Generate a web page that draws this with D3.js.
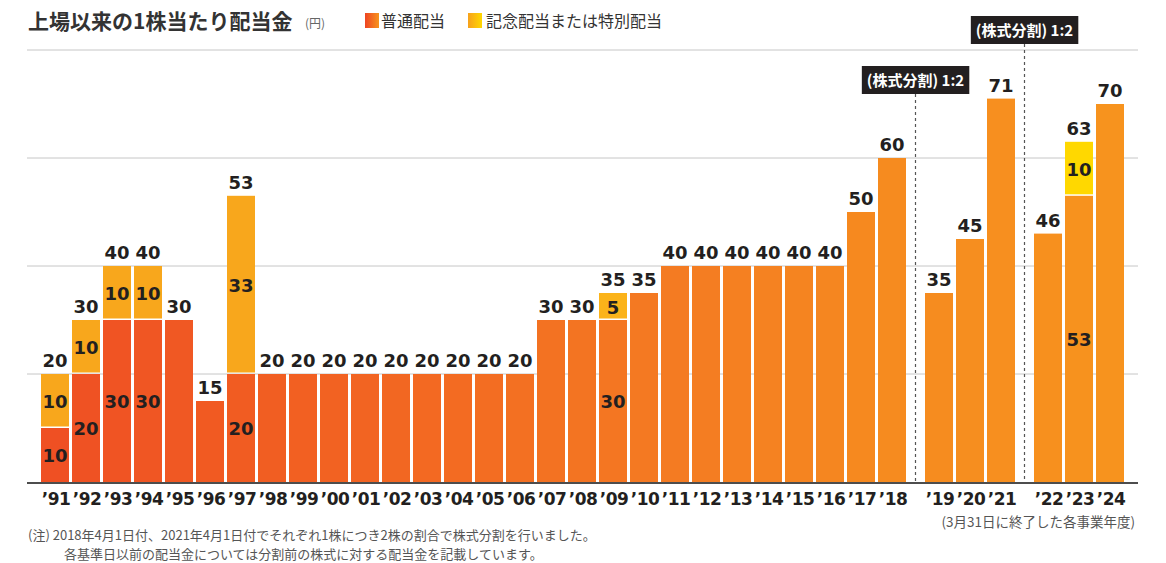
<!DOCTYPE html>
<html>
<head>
<meta charset="utf-8">
<script src="https://cdn.jsdelivr.net/npm/d3@7"></script>
<style>
  body { margin: 0; background: #fff; }
  svg { display: block; }
  text { font-family: "Noto Sans CJK JP", "Noto Sans", sans-serif; }
  .num { font-family: "DejaVu Sans", sans-serif; font-weight: bold; fill: #231F20; }
</style>
</head>
<body>
<svg id="chart"></svg>
<script>
const years = ["91","92","93","94","95","96","97","98","99","00","01","02","03","04","05","06","07","08","09","10","11","12","13","14","15","16","17","18","19","20","21","22","23","24"];
const regular = [10,20,30,30,30,15,20,20,20,20,20,20,20,20,20,20,30,30,30,35,40,40,40,40,40,40,50,60,35,45,71,46,53,70];
const special = [10,10,10,10,0,0,33,0,0,0,0,0,0,0,0,0,0,0,5,0,0,0,0,0,0,0,0,0,0,0,0,0,10,0];
// group after each stock split: 0 = up to '18, 1 = '19-'21, 2 = '22-'24
const splitGroup = years.map((y, i) => (i < 28 ? 0 : i < 31 ? 1 : 2));
const gridTicks = [20, 40, 60, 80];
const splits = [{ after: "18", label: "(株式分割) 1:2", boxY: 66 }, { after: "21", label: "(株式分割) 1:2", boxY: 16 }];

const W = 1166, H = 563;
const svg = d3.select("#chart").attr("width", W).attr("height", H);

const BASE = 482;
const y = d3.scaleLinear().domain([0, 80]).range([BASE, 50]);
const STEP = 31, BAR_W = 28, GAP = 16;
const x = d3.scaleLinear().domain([0, 1]).range([41, 41 + STEP]);
const slot = (i) => x(i) + splitGroup[i] * GAP;

const regColor = d3.scaleLinear()
  .domain([0, 9, 20, 27, 33])
  .range(["#EF5023", "#F26222", "#F47B22", "#F68B1F", "#F7931E"]);
const specialColor = (i) => (i === 32 ? "#FFD800" : i === 18 ? "#FBB31A" : "#F8A71C");

// grid
svg.append("g").selectAll("line").data(gridTicks).enter().append("line")
  .attr("x1", 27).attr("x2", 1138)
  .attr("y1", (d) => y(d)).attr("y2", (d) => y(d))
  .attr("stroke", "#C6C6C6").attr("stroke-width", 1);

// bars
const bars = svg.append("g");
years.forEach((yr, i) => {
  const x0 = slot(i);
  bars.append("rect")
    .attr("x", x0).attr("width", BAR_W)
    .attr("y", y(regular[i])).attr("height", BASE - y(regular[i]))
    .attr("fill", regColor(i));
  if (special[i] > 0) {
    bars.append("rect")
      .attr("x", x0).attr("width", BAR_W)
      .attr("y", y(regular[i] + special[i])).attr("height", BASE - y(special[i]) - 1.5)
      .attr("fill", specialColor(i));
  }
});

// labels
const labels = svg.append("g");
years.forEach((yr, i) => {
  const cx = slot(i) + BAR_W / 2;
  const total = regular[i] + special[i];
  labels.append("text").attr("class", "num")
    .attr("x", cx).attr("y", y(total) - 7)
    .attr("text-anchor", "middle").attr("font-size", 18)
    .text(total);
  if (special[i] > 0) {
    labels.append("text").attr("class", "num")
      .attr("x", cx).attr("y", (y(regular[i]) + BASE) / 2 + 7)
      .attr("text-anchor", "middle").attr("font-size", 18)
      .text(regular[i]);
    labels.append("text").attr("class", "num")
      .attr("x", cx).attr("y", (y(regular[i] + special[i]) + y(regular[i])) / 2 + 7)
      .attr("text-anchor", "middle").attr("font-size", 18)
      .text(special[i]);
  }
});

// split markers
splits.forEach((s) => {
  const i = years.indexOf(s.after);
  const lx = slot(i) + BAR_W + (GAP + STEP - BAR_W) / 2;
  const g = svg.append("g");
  const t = g.append("text")
    .attr("x", lx).attr("y", s.boxY + 20)
    .attr("text-anchor", "middle")
    .attr("fill", "#fff").attr("font-size", 15).attr("font-weight", "bold")
    .text(s.label);
  const bb = t.node().getBBox();
  g.insert("rect", "text")
    .attr("x", bb.x - 5).attr("y", s.boxY)
    .attr("width", bb.width + 10).attr("height", 28)
    .attr("fill", "#231F20");
  svg.append("line")
    .attr("x1", lx).attr("x2", lx)
    .attr("y1", s.boxY + 28).attr("y2", BASE)
    .attr("stroke", "#555").attr("stroke-width", 1.2)
    .attr("stroke-dasharray", "3,3");
});

// baseline
svg.append("line").attr("x1", 27).attr("x2", 1138)
  .attr("y1", BASE + 1).attr("y2", BASE + 1)
  .attr("stroke", "#4D4D4D").attr("stroke-width", 2);

// x labels
svg.append("g").selectAll("text").data(years).enter().append("text")
  .attr("class", "num")
  .attr("x", (d, i) => slot(i) + BAR_W / 2 + 1)
  .attr("y", 505)
  .attr("text-anchor", "middle")
  .attr("font-size", 17)
  .attr("letter-spacing", -0.5)
  .text((d) => "’" + d);

// title & legend
svg.append("text").attr("x", 28).attr("y", 29)
  .attr("font-size", 21).attr("font-weight", "bold").attr("fill", "#333")
  .text("上場以来の1株当たり配当金");
svg.append("text").attr("x", 305).attr("y", 28)
  .attr("font-size", 12).attr("fill", "#666").text("(円)");

const defs = svg.append("defs");
const g1 = defs.append("linearGradient").attr("id", "lg1");
g1.append("stop").attr("offset", "0%").attr("stop-color", "#EE4423");
g1.append("stop").attr("offset", "100%").attr("stop-color", "#F7941D");
const g2 = defs.append("linearGradient").attr("id", "lg2");
g2.append("stop").attr("offset", "0%").attr("stop-color", "#F7A11C");
g2.append("stop").attr("offset", "100%").attr("stop-color", "#FFD800");

svg.append("rect").attr("x", 365).attr("y", 13).attr("width", 14).attr("height", 15).attr("fill", "url(#lg1)");
svg.append("text").attr("x", 381).attr("y", 27).attr("font-size", 16).attr("fill", "#333").text("普通配当");
svg.append("rect").attr("x", 468).attr("y", 13).attr("width", 14).attr("height", 15).attr("fill", "url(#lg2)");
svg.append("text").attr("x", 486).attr("y", 27).attr("font-size", 16).attr("fill", "#333").text("記念配当または特別配当");

// notes
svg.append("text").attr("x", 1135).attr("y", 527).attr("text-anchor", "end")
  .attr("font-size", 13.5).attr("fill", "#555").text("(3月31日に終了した各事業年度)");
svg.append("text").attr("x", 28).attr("y", 540)
  .attr("font-size", 13).attr("fill", "#555")
  .text("(注) 2018年4月1日付、2021年4月1日付でそれぞれ1株につき2株の割合で株式分割を行いました。");
svg.append("text").attr("x", 64).attr("y", 559)
  .attr("font-size", 13).attr("fill", "#555")
  .text("各基準日以前の配当金については分割前の株式に対する配当金を記載しています。");
</script>
</body>
</html>
